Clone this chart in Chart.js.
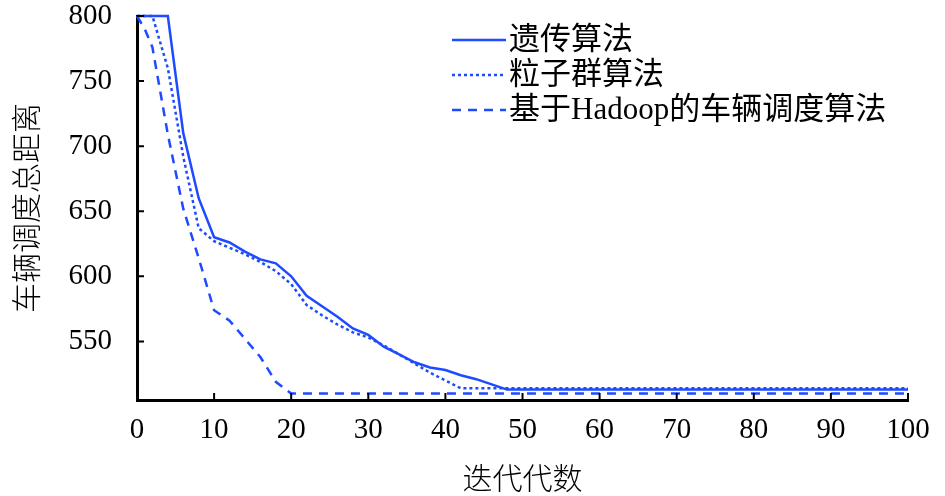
<!DOCTYPE html>
<html>
<head>
<meta charset="utf-8">
<script src="https://cdn.jsdelivr.net/npm/chart.js@4/dist/chart.umd.min.js"></script>
<style>
  html, body { margin: 0; padding: 0; background: #fff; }
  #wrap { width: 945px; height: 496px; position: relative; }
</style>
</head>
<body>
<div id="wrap"><canvas id="chart"></canvas></div>
<script>
// series data
const seriesLabels = ['遗传算法', '粒子群算法', '基于Hadoop的车辆调度算法'];

const gaX = [0, 4, 6, 8, 10, 12, 14, 16, 18, 20, 22, 24, 26, 28, 30, 32, 34, 36, 38, 40, 42, 44, 46, 48, 100];
const gaY = [800, 800, 710, 660, 630, 626, 619, 613, 610, 600, 585, 577, 569, 560, 555, 546, 540, 534, 530, 528, 524, 521, 517, 513, 513];

const psoX = [0, 2, 4, 6, 8, 10, 12, 14, 16, 18, 20, 22, 24, 26, 28, 30, 32, 34, 36, 38, 40, 42, 100];
const psoY = [800, 800, 760, 692, 637, 627, 622, 617, 611, 604, 594, 578, 570, 563, 557, 553, 547, 540, 533, 526, 520, 514, 514];

const hadX = [0, 1, 2, 4, 6, 8, 10, 12, 14, 16, 18, 20, 100];
const hadY = [800, 790, 776, 709, 652, 614, 574, 566, 552, 538, 519, 510, 510];

const xTicks = [0, 10, 20, 30, 40, 50, 60, 70, 80, 90, 100];
const yTicks = [550, 600, 650, 700, 750, 800];

const xTitle = '迭代代数';
const yTitle = '车辆调度总距离';

const blue = '#1e4bff';
const numFont = { family: '"Liberation Serif", "Times New Roman", serif', size: 29 };
const cjkFont = { family: '"Noto Sans CJK SC", sans-serif', size: 30, weight: 300 };

const toPoints = (xs, ys) => xs.map((x, i) => ({ x: x, y: ys[i] }));

// ticks drawn inward from the axes
const innerTicks = {
  id: 'innerTicks',
  afterDraw(chart) {
    const ctx = chart.ctx;
    const { x, y } = chart.scales;
    const len = 7;
    ctx.save();
    ctx.strokeStyle = '#000';
    ctx.lineWidth = 2;
    ctx.beginPath();
    x.ticks.forEach((t) => {
      const px = x.getPixelForValue(t.value);
      ctx.moveTo(px, y.bottom);
      ctx.lineTo(px, y.bottom - len);
    });
    y.ticks.forEach((t) => {
      const py = y.getPixelForValue(t.value);
      ctx.moveTo(x.left, py);
      ctx.lineTo(x.left + len, py);
    });
    ctx.stroke();
    ctx.restore();
  }
};

// legend in the upper right of the plot
const lineLegend = {
  id: 'lineLegend',
  afterDraw(chart, args, opts) {
    const ctx = chart.ctx;
    ctx.save();
    chart.data.datasets.forEach((ds, i) => {
      const yy = opts.top + i * opts.rowGap;
      ctx.strokeStyle = ds.borderColor;
      ctx.lineWidth = ds.borderWidth;
      ctx.setLineDash(ds.borderDash || []);
      ctx.beginPath();
      ctx.moveTo(opts.left, yy);
      ctx.lineTo(opts.left + opts.lineLen, yy);
      ctx.stroke();
      ctx.setLineDash([]);
      ctx.fillStyle = '#000';
      ctx.font = '31px "Liberation Serif", "Noto Sans CJK SC", serif';
      ctx.textBaseline = 'middle';
      ctx.fillText(ds.label, opts.left + opts.lineLen + 3, yy + 1);
    });
    ctx.restore();
  }
};

const datasets = [
  { label: seriesLabels[0], data: toPoints(gaX, gaY), borderColor: blue, borderWidth: 2.5, borderDash: [] },
  { label: seriesLabels[1], data: toPoints(psoX, psoY), borderColor: blue, borderWidth: 2.5, borderDash: [3, 3] },
  { label: seriesLabels[2], data: toPoints(hadX, hadY), borderColor: blue, borderWidth: 2.5, borderDash: [9, 7] }
].map((d) => Object.assign(d, { fill: false, pointRadius: 0, tension: 0, clip: false }));

new Chart(document.getElementById('chart'), {
  type: 'line',
  data: { datasets: datasets },
  plugins: [innerTicks, lineLegend],
  options: {
    responsive: true,
    maintainAspectRatio: false,
    animation: false,
    layout: { padding: { top: 16, right: 37, left: 0, bottom: 0 } },
    plugins: {
      legend: { display: false },
      tooltip: { enabled: false },
      lineLegend: { left: 452, top: 40, rowGap: 35, lineLen: 54 }
    },
    scales: {
      x: {
        type: 'linear',
        min: 0,
        max: 100,
        afterBuildTicks: (scale) => { scale.ticks = xTicks.map((v) => ({ value: v })); },
        afterFit: (scale) => { scale.height = 96; },
        grid: { display: false, drawTicks: false },
        border: { display: true, color: '#000', width: 3 },
        ticks: { color: '#000', font: numFont, padding: 13, maxRotation: 0 },
        title: { display: true, text: xTitle, color: '#000', font: cjkFont, padding: { top: 4, bottom: 0 } }
      },
      y: {
        type: 'linear',
        min: 505,
        max: 800,
        afterBuildTicks: (scale) => { scale.ticks = yTicks.map((v) => ({ value: v })); },
        afterFit: (scale) => {
          scale.width = 137;
          scale.paddingTop = 0;
          scale.paddingBottom = 0;
        },
        grid: { display: false, drawTicks: false },
        border: { display: true, color: '#000', width: 3 },
        ticks: { color: '#000', font: numFont, padding: 25 },
        title: { display: true, text: yTitle, color: '#000', font: cjkFont, padding: { top: 8, bottom: 0 } }
      }
    }
  }
});
</script>
</body>
</html>
